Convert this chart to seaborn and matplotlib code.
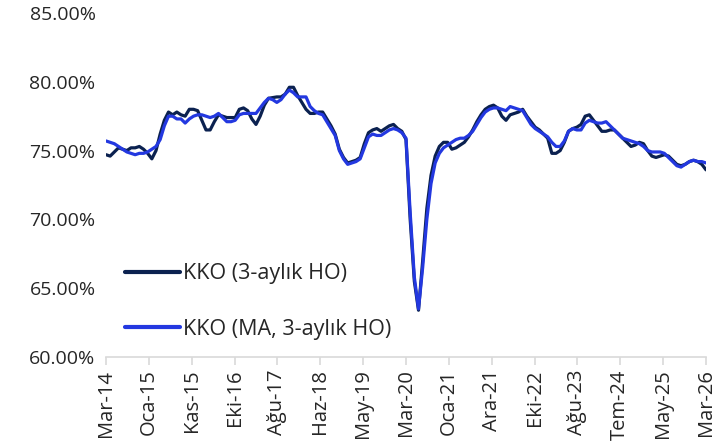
import pandas as pd
import seaborn as sns
import matplotlib.pyplot as plt
import numpy as np
from matplotlib.ticker import FuncFormatter

# KKO, 3-month average, monthly from Mar-14 to Mar-26
kko_3m = [
    74.7, 74.6, 74.9, 75.2, 75.1, 75.0, 75.2, 75.2, 75.3, 75.1,
    74.8, 74.4, 75.0, 76.2, 77.2, 77.8, 77.6, 77.8, 77.6, 77.5,
    78.0, 78.0, 77.9, 77.2, 76.5, 76.5, 77.1, 77.6, 77.5, 77.4,
    77.4, 77.4, 78.0, 78.1, 77.9, 77.3, 76.9, 77.5, 78.3, 78.8,
    78.85, 78.9, 78.9, 79.1, 79.6, 79.6, 79.0, 78.5, 78.0, 77.7,
    77.7, 77.8, 77.8, 77.3, 76.8, 76.2, 75.1, 74.5, 74.1, 74.2,
    74.3, 74.5, 75.5, 76.3, 76.5, 76.6, 76.4, 76.6, 76.8, 76.9,
    76.6, 76.4, 75.8, 70.0, 65.5, 63.4, 67.0, 70.8, 73.2, 74.6,
    75.3, 75.6, 75.6, 75.1, 75.2, 75.4, 75.6, 76.0, 76.5, 77.1,
    77.6, 78.0, 78.2, 78.3, 78.1, 77.5, 77.2, 77.6, 77.7, 77.8,
    78.0, 77.5, 77.1, 76.7, 76.5, 76.2, 75.9, 74.8, 74.8, 75.0,
    75.6, 76.4, 76.6, 76.7, 76.9, 77.5, 77.6, 77.2, 76.8, 76.4,
    76.4, 76.5, 76.5, 76.2, 75.9, 75.6, 75.3, 75.4, 75.6, 75.5,
    75.0, 74.6, 74.5, 74.6, 74.7, 74.6, 74.3, 74.0, 73.9, 74.0,
    74.2, 74.3, 74.2, 74.0, 73.6,
]

# KKO, seasonally adjusted, 3-month average
kko_ma_3m = [
    75.7, 75.6, 75.5, 75.3, 75.1, 74.9, 74.8, 74.7, 74.8, 74.8,
    74.9, 75.1, 75.3, 75.8, 76.8, 77.5, 77.5, 77.3, 77.3, 77.0,
    77.3, 77.5, 77.6, 77.6, 77.5, 77.4, 77.5, 77.7, 77.4, 77.1,
    77.1, 77.2, 77.6, 77.7, 77.7, 77.7, 77.7, 78.1, 78.5, 78.8,
    78.7, 78.5, 78.7, 79.1, 79.4, 79.2, 78.9, 78.9, 78.9, 78.2,
    77.9, 77.7, 77.6, 77.1, 76.6, 76.1, 75.0, 74.4, 74.0, 74.1,
    74.2, 74.4, 75.2, 76.0, 76.2, 76.1, 76.1, 76.3, 76.5, 76.6,
    76.5, 76.3, 75.9, 70.5, 65.8, 63.5, 66.5, 70.0, 72.6, 74.1,
    74.8, 75.2, 75.4, 75.6, 75.8, 75.9, 75.9, 76.1, 76.4, 76.9,
    77.4, 77.8, 78.0, 78.1, 78.1, 78.0, 77.9, 78.2, 78.1, 78.0,
    77.9, 77.4, 76.9, 76.6, 76.4, 76.2, 76.0, 75.6, 75.3, 75.3,
    75.7, 76.4, 76.6, 76.5, 76.5, 77.0, 77.2, 77.1, 77.0, 77.0,
    77.1, 76.8, 76.5, 76.2, 75.9, 75.8, 75.7, 75.6, 75.5, 75.3,
    75.0, 74.9, 74.9, 74.9, 74.8, 74.5, 74.2, 73.9, 73.8, 74.0,
    74.2, 74.3, 74.2, 74.2, 74.1,
]

tick_labels = ["Mar-14", "Oca-15", "Kas-15", "Eki-16", "Ağu-17", "Haz-18",
               "May-19", "Mar-20", "Oca-21", "Ara-21", "Eki-22", "Ağu-23",
               "Tem-24", "May-25", "Mar-26"]

series_names = ["KKO (3-aylık HO)", "KKO (MA, 3-aylık HO)"]
colors = ["#0b2150", "#2338e0"]

months = np.arange(len(kko_3m))
df = pd.DataFrame({
    "ay": np.concatenate([months, months]),
    "deger": kko_3m + kko_ma_3m,
    "seri": [series_names[0]] * len(kko_3m) + [series_names[1]] * len(kko_ma_3m),
})

sns.set_style("white")
plt.rcParams["font.family"] = ["Open Sans", "DejaVu Sans"]

fig, ax = plt.subplots(figsize=(7.28, 4.47), dpi=100)
plt.subplots_adjust(left=0.1456, right=0.9698, top=0.971, bottom=0.2013)

sns.lineplot(data=df, x="ay", y="deger", hue="seri", palette=colors,
             linewidth=2.3, ax=ax)

ax.set_xlim(0, 144)
ax.set_ylim(60, 85)
ax.set_yticks([60, 65, 70, 75, 80, 85])
ax.yaxis.set_major_formatter(FuncFormatter(lambda v, p: f"{v:.2f}%"))
ax.set_xticks(np.linspace(0, 144, len(tick_labels)))
ax.set_xticklabels(tick_labels, rotation=90)
ax.set_xlabel("")
ax.set_ylabel("")

for side in ["top", "right", "left"]:
    ax.spines[side].set_visible(False)
ax.spines["bottom"].set_color("#d9d9d9")
ax.spines["bottom"].set_linewidth(1.2)
ax.tick_params(axis="x", bottom=True, length=6, width=1.2, color="#d9d9d9",
               labelsize=14.5, pad=3)
ax.tick_params(axis="y", left=False, labelsize=14, pad=4)

leg = ax.legend(loc="lower left", bbox_to_anchor=(0.017, 0.025), frameon=False,
                fontsize=15.5, handlelength=2.55, handletextpad=0.15,
                labelspacing=1.6, borderaxespad=0)
for line in leg.get_lines():
    line.set_linewidth(3)

plt.savefig("out.png", dpi=100)
